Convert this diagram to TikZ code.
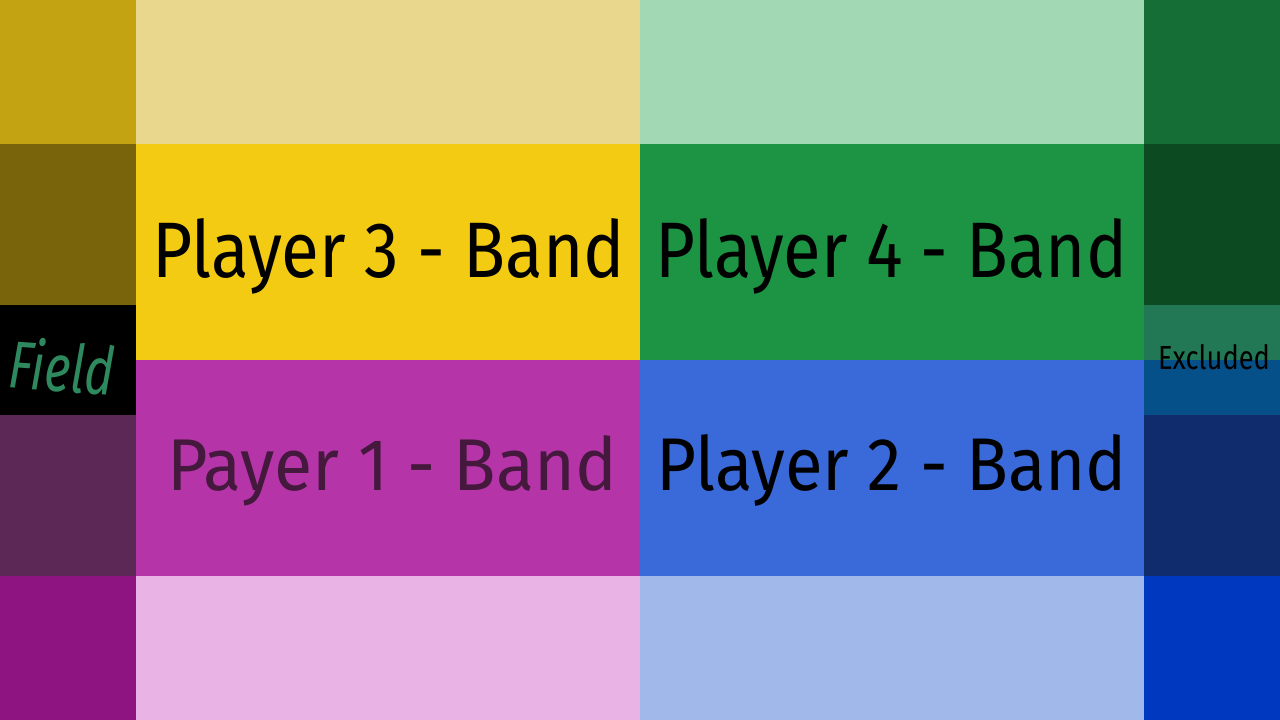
\documentclass[tikz,border=0pt]{standalone}
\usepackage{fontspec}
\setmainfont{Fira Sans}
\usepackage{graphicx}
\definecolor{cA}{HTML}{C4A312}
\definecolor{cB}{HTML}{7A640B}
\definecolor{cC}{HTML}{000000}
\definecolor{cD}{HTML}{5C2856}
\definecolor{cE}{HTML}{8E1581}
\definecolor{mTopL}{HTML}{E8D78D}
\definecolor{mTopR}{HTML}{A2D8B4}
\definecolor{mYel}{HTML}{F3CB12}
\definecolor{mGrn}{HTML}{1C9444}
\definecolor{mMag}{HTML}{B535A9}
\definecolor{mBlu}{HTML}{3A6AD9}
\definecolor{mBotL}{HTML}{EAB3E5}
\definecolor{mBotR}{HTML}{A1B8EA}
\definecolor{rA}{HTML}{146E36}
\definecolor{rB}{HTML}{0C4A22}
\definecolor{rC}{HTML}{227755}
\definecolor{rD}{HTML}{06508A}
\definecolor{rE}{HTML}{112C6C}
\definecolor{rF}{HTML}{0039BF}
\definecolor{fieldgreen}{HTML}{2E8A5E}
\definecolor{darkpurple}{HTML}{45193D}
\tikzset{
  cell/.style={inner sep=0pt, outer sep=0pt},
  bandlabel/.style={inner sep=0pt, outer sep=0pt, anchor=base west}
}
\newcommand{\fitlabel}[3]{\resizebox{#1pt}{#2pt}{#3}}
\begin{document}
\begin{tikzpicture}[x=1pt,y=-1pt]
\useasboundingbox (0,0) rectangle (1280,720);
% left column
\fill[cA] (0,0) rectangle (136,144);
\fill[cB] (0,144) rectangle (136,305);
\fill[cC] (0,305) rectangle (136,415);
\fill[cD] (0,415) rectangle (136,576);
\fill[cE] (0,576) rectangle (136,720);
% middle columns
\fill[mTopL] (136,0) rectangle (640,144);
\fill[mTopR] (640,0) rectangle (1144,144);
\fill[mYel] (136,144) rectangle (640,360);
\fill[mGrn] (640,144) rectangle (1144,360);
\fill[mMag] (136,360) rectangle (640,576);
\fill[mBlu] (640,360) rectangle (1144,576);
\fill[mBotL] (136,576) rectangle (640,720);
\fill[mBotR] (640,576) rectangle (1144,720);
% right column
\fill[rA] (1144,0) rectangle (1280,144);
\fill[rB] (1144,144) rectangle (1280,305);
\fill[rC] (1144,305) rectangle (1280,360);
\fill[rD] (1144,360) rectangle (1280,415);
\fill[rE] (1144,415) rectangle (1280,576);
\fill[rF] (1144,576) rectangle (1280,720);
% labels
\node[bandlabel] (p3) at (152,277) {\fitlabel{473}{59}{Player 3 - Band}};
\node[bandlabel] (p4) at (655,277) {\fitlabel{472}{59}{Player 4 - Band}};
\node[bandlabel, text=darkpurple] (p1) at (167,490) {\fitlabel{450}{55}{Payer 1 - Band}};
\node[bandlabel] (p2) at (656,490) {\fitlabel{471}{56}{Player 2 - Band}};
\node[bandlabel] (ex) at (1158,369) {\fitlabel{112}{25}{Excluded}};
\node[cell, text=fieldgreen, rotate=-4] (field) at (62,366) {\resizebox{106pt}{52pt}{\itshape Field}};
\end{tikzpicture}
\end{document}
